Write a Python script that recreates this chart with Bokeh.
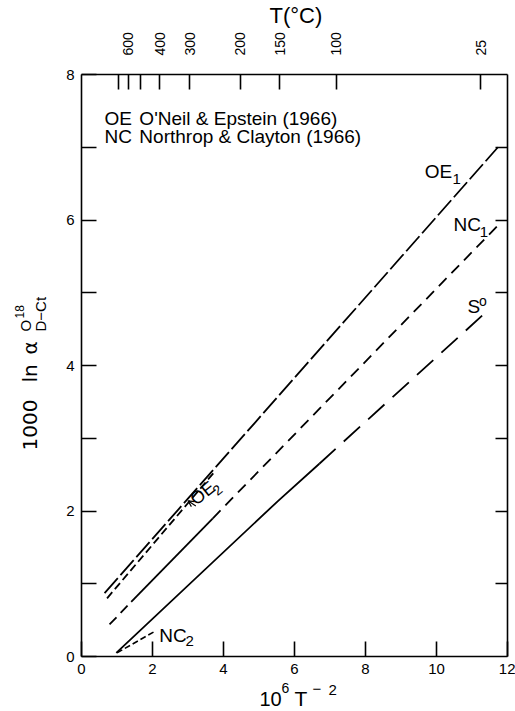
import math
from bokeh.plotting import figure
from bokeh.models import LinearAxis, FixedTicker, Label, Arrow, OpenHead, Range1d
from bokeh.layouts import row, column
from bokeh.embed import file_html
from bokeh.resources import INLINE

# ---------------- data ----------------
x_ticks = [0, 2, 4, 6, 8, 10, 12]
y_major = [0, 2, 4, 6, 8]
y_minor = [1, 3, 5, 7]
right_ticks = [1, 2, 3, 4, 5, 6, 7]
top_temps_c = [600, 400, 300, 200, 150, 100, 25]
top_labels = ["600", "400", "300", "200", "150", "100", "25"]
top_minor_temps_c = [700, 500]

# OE1 (O'Neil & Epstein, curve 1)
oe1_x = [0.65, 11.73]
oe1_y = [0.87, 7.00]
# OE2
oe2_x = [0.72, 3.75]
oe2_y = [0.80, 2.54]
# NC1 (Northrop & Clayton): dashed / solid / dashed parts
nc1_x = [0.79, 1.40, 3.70, 11.82]
nc1_y = [0.44, 0.75, 1.90, 5.97]
# S0 : solid part then dashed
s0_x = [0.98, 5.54, 6.70, 8.75, 11.50]
s0_y = [0.05, 2.14, 2.65, 3.56, 4.78]
# NC2
nc2_x = [1.00, 2.08]
nc2_y = [0.05, 0.35]

FONT = "Liberation Sans"
W, H = 515, 711
YW = 48          # width of the y-title strip
TH = 28          # height of the top title strip
B_LEFT, B_RIGHT, B_TOP, B_BOTTOM = 33, 8, 46, 24
MAIN_H = B_TOP + 582 + B_BOTTOM
XH = H - TH - MAIN_H
FRAME_L = YW + B_LEFT            # page x of frame left
FRAME_R = W - B_RIGHT            # page x of frame right
PX_X = (FRAME_R - FRAME_L) / 12.0
PX_Y = 582 / 8.0
SHIFT = 0.38     # baseline correction (em)


def strip_fig(w, h, x0, x1):
    f = figure(width=w, height=h, x_range=Range1d(x0, x1), y_range=Range1d(0, h),
               x_axis_type=None, y_axis_type=None, toolbar_location=None,
               output_backend="svg", min_border=0, min_border_left=0,
               min_border_right=0, min_border_top=0, min_border_bottom=0)
    f.outline_line_color = None
    f.background_fill_color = "white"
    f.border_fill_color = "white"
    return f


def put(fig, text, x, y, size, angle=0.0, align="left", font=FONT, ux=1.0, uy=1.0):
    d = SHIFT * size
    ax = x - math.sin(angle) * d / ux
    ay = y + math.cos(angle) * d / uy
    fig.add_layout(Label(x=ax, y=ay, text=text, text_font=font,
                         text_font_size=f"{size}px", text_color="black",
                         angle=angle, text_align=align,
                         text_baseline="alphabetic"))


# ---------------- main plot ----------------
p = figure(width=W - YW, height=MAIN_H, x_range=Range1d(0, 12), y_range=Range1d(0, 8),
           x_axis_type=None, y_axis_type=None, toolbar_location=None,
           output_backend="svg", min_border_left=B_LEFT, min_border_right=B_RIGHT,
           min_border_top=B_TOP, min_border_bottom=B_BOTTOM)
p.outline_line_color = None
p.background_fill_color = "white"
p.border_fill_color = "white"

AX_W = 1.6


def style_axis(ax, size="15px"):
    ax.axis_line_color = "black"
    ax.axis_line_width = AX_W
    ax.major_tick_line_color = "black"
    ax.major_tick_line_width = AX_W
    ax.minor_tick_line_color = "black"
    ax.minor_tick_line_width = AX_W
    ax.major_tick_out = 0
    ax.minor_tick_out = 0
    ax.major_label_text_font = FONT
    ax.major_label_text_color = "black"
    ax.major_label_text_font_size = size


bx = LinearAxis(ticker=FixedTicker(ticks=x_ticks))
style_axis(bx)
bx.major_tick_in = 15
bx.major_label_standoff = 7
p.add_layout(bx, "below")

ly = LinearAxis(ticker=FixedTicker(ticks=y_major, minor_ticks=y_minor))
style_axis(ly)
ly.major_tick_in = 15
ly.minor_tick_in = 15
ly.major_label_standoff = 7
p.add_layout(ly, "left")

ry = LinearAxis(ticker=FixedTicker(ticks=[], minor_ticks=right_ticks))
style_axis(ry)
ry.minor_tick_in = 12
ry.major_label_standoff = 0
p.add_layout(ry, "right")

# top axis: temperature (deg C) placed at 10^6 / T(K)^2
top_pos = [round(1e6 / (t + 273.15) ** 2, 4) for t in top_temps_c]
top_minor = [round(1e6 / (t + 273.15) ** 2, 4) for t in top_minor_temps_c]
tx = LinearAxis(ticker=FixedTicker(ticks=top_pos, minor_ticks=top_minor))
style_axis(tx, "14px")
tx.major_tick_in = 15
tx.minor_tick_in = 15
tx.major_label_standoff = 19
tx.major_label_orientation = math.pi / 2
tx.major_label_overrides = {pos: lab for pos, lab in zip(top_pos, top_labels)}
p.add_layout(tx, "above")

LW = 1.8
p.line(oe1_x, oe1_y, line_color="black", line_width=LW, line_dash="20 4")
p.line(oe2_x, oe2_y, line_color="black", line_width=LW, line_dash="8 4")
p.line(nc1_x[0:2], nc1_y[0:2], line_color="black", line_width=LW, line_dash="10 6")
p.line(nc1_x[1:3], nc1_y[1:3], line_color="black", line_width=LW)
p.line(nc1_x[2:4], nc1_y[2:4], line_color="black", line_width=LW, line_dash="11 7")
p.line(s0_x[0:3], s0_y[0:3], line_color="black", line_width=LW)
p.line(s0_x[2:5], s0_y[2:5], line_color="black", line_width=LW, line_dash="22 11")
p.line(nc2_x, nc2_y, line_color="black", line_width=1.6, line_dash="6 3")


def mput(text, x, y, size, angle=0.0, align="left"):
    put(p, text, x, y, size, angle=angle, align=align, ux=PX_X, uy=PX_Y)


# legend text
mput("OE", 0.65, 7.30, 19)
mput("O'Neil & Epstein (1966)", 1.63, 7.30, 19)
mput("NC", 0.65, 7.05, 19)
mput("Northrop & Clayton (1966)", 1.63, 7.05, 19)

# curve labels
mput("OE", 9.67, 6.57, 19)
mput("1", 10.45, 6.49, 15)
mput("NC", 10.48, 5.84, 19)
mput("1", 11.22, 5.76, 15)
mput("S", 10.87, 4.71, 19)
mput("o", 11.20, 4.82, 14)
mput("NC", 2.19, 0.19, 19)
mput("2", 2.93, 0.14, 15)
ang = 0.68
mput("OE", 3.25, 2.06, 18, angle=ang)
mput("2", 3.84, 2.20, 14, angle=ang)
p.add_layout(Arrow(end=OpenHead(size=6, line_width=1.2, line_color="black"),
                   x_start=3.22, y_start=2.07, x_end=3.00, y_end=2.14,
                   line_width=1.2, line_color="black"))

# ---------------- title strips (x in page pixels; frames align with main frame) ----------------
tfig = strip_fig(W - YW, TH, FRAME_L, FRAME_R)
put(tfig, "T(°C)", 269, TH - 23.5, 22, align="left")

xfig = strip_fig(W - YW, XH, FRAME_L, FRAME_R)
put(xfig, "10", 259, H - 706, 20)
put(xfig, "6", 281, H - 693, 14)
put(xfig, "T", 294, H - 706, 21)
put(xfig, "−", 312, H - 694, 15)
put(xfig, "2", 328, H - 695, 15)

yfig = strip_fig(YW, H, 0, YW)
half = math.pi / 2
put(yfig, "1000", 37, H - 450, 20, angle=half, font="DejaVu Sans")
put(yfig, "ln", 37, H - 382, 20, angle=half, font="DejaVu Sans")
put(yfig, "α", 37, H - 354, 20, angle=half, font="DejaVu Sans")
put(yfig, "O", 31, H - 331, 15, angle=half)
put(yfig, "18", 24, H - 318, 12, angle=half)
put(yfig, "D−Ct", 46, H - 331, 15, angle=half)

layout = row(yfig, column(tfig, p, xfig, spacing=0), spacing=0)
open("out.html", "w").write(file_html(layout, INLINE))
